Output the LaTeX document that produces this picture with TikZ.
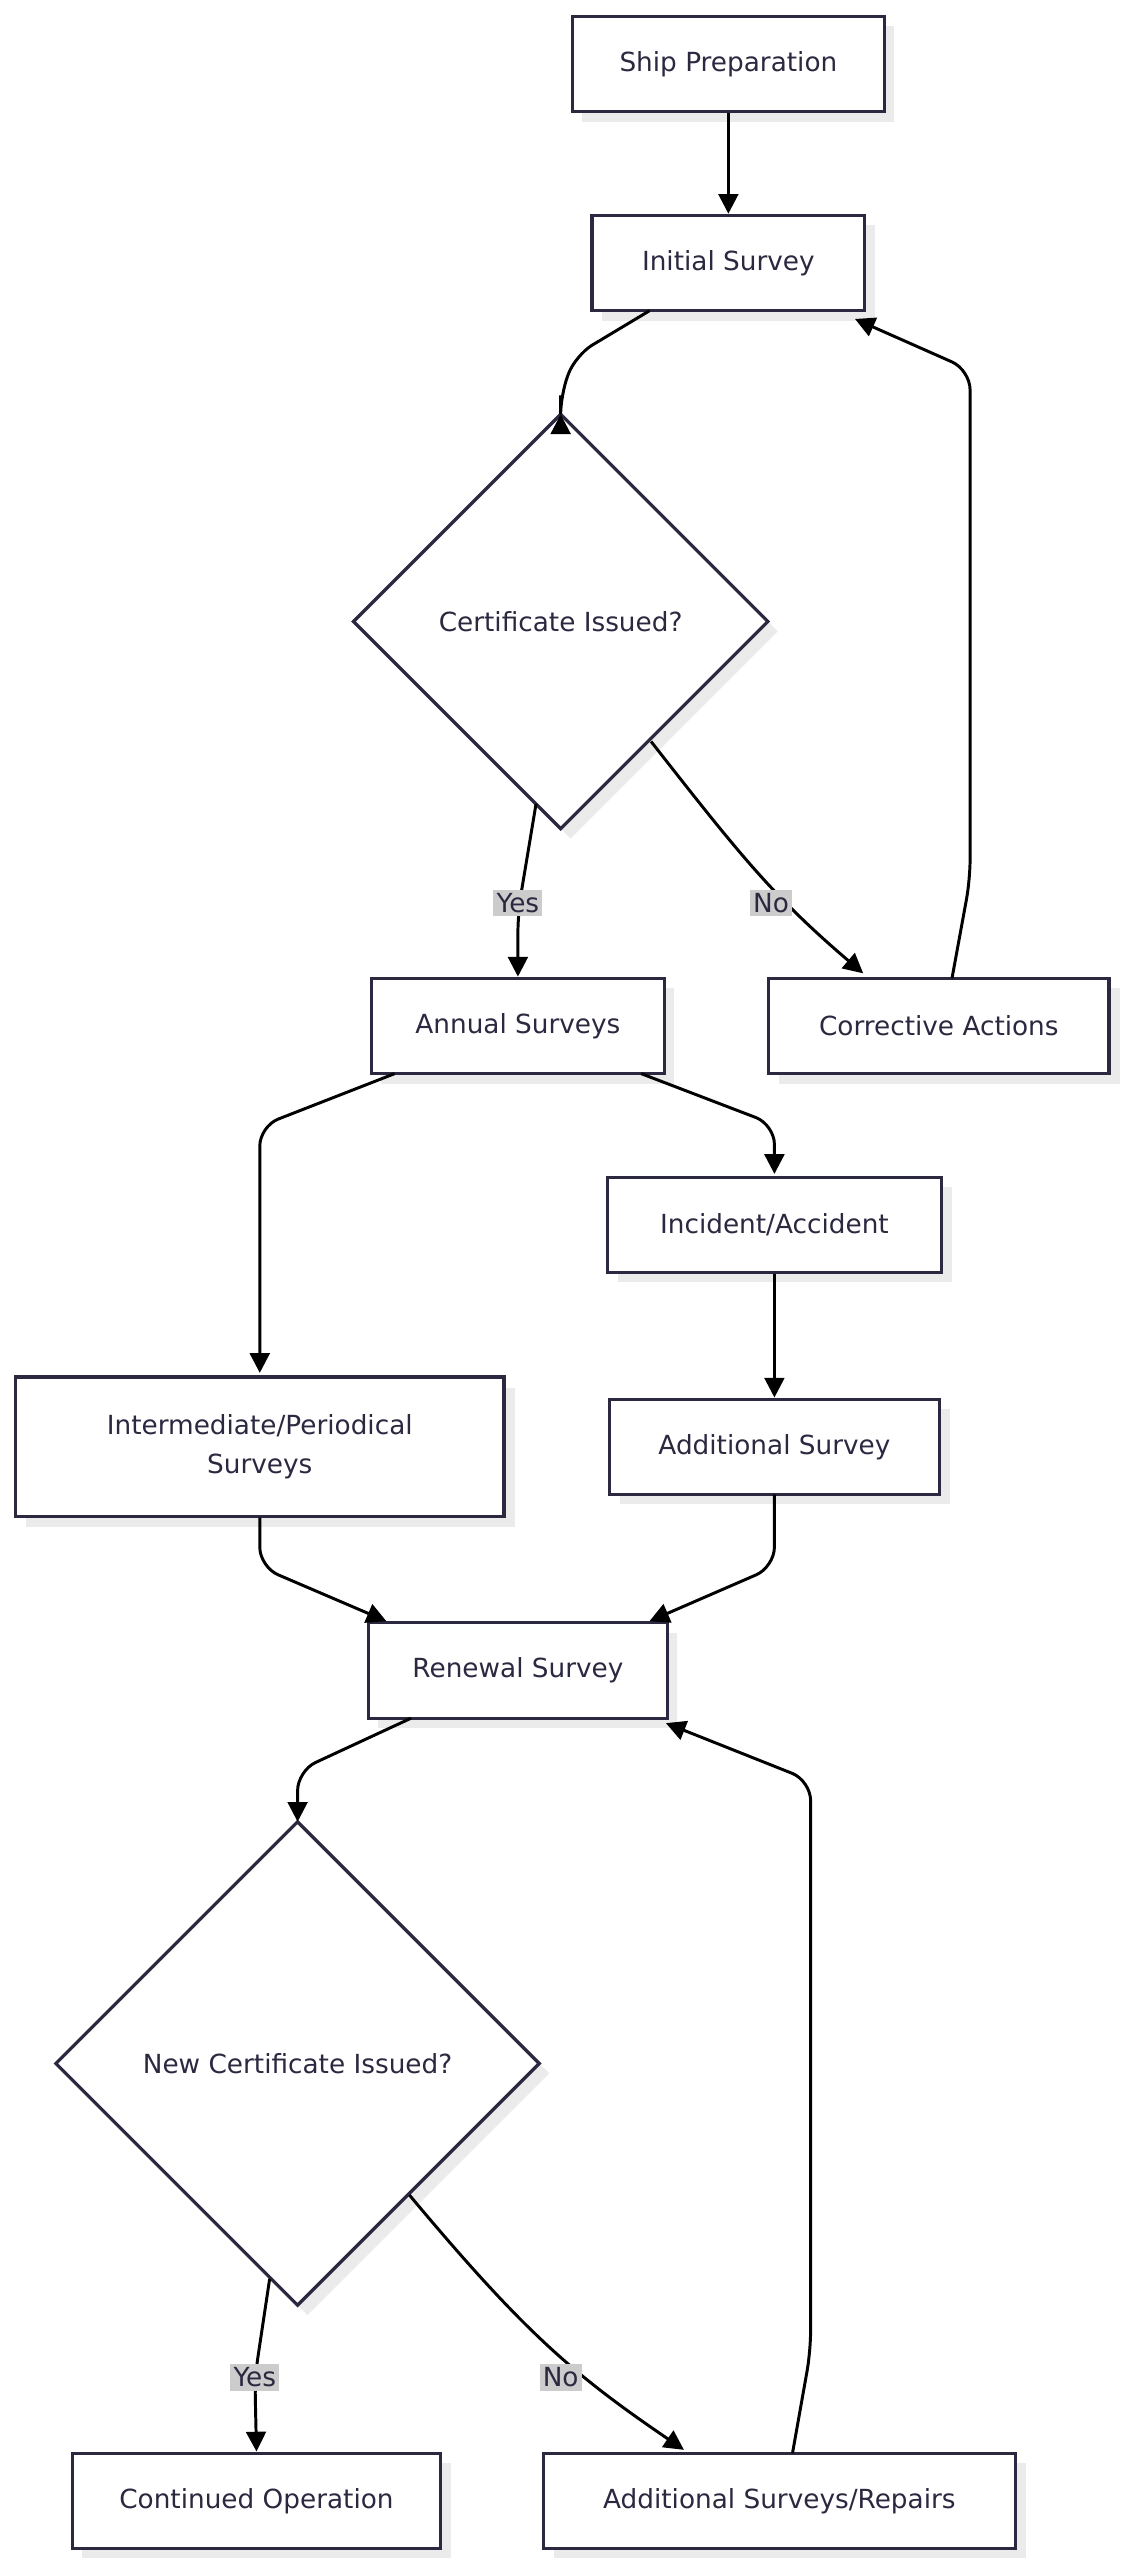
\documentclass[tikz,border=0pt]{standalone}
\usepackage{fontspec}
\setmainfont{DejaVu Sans}
\usetikzlibrary{shapes.geometric,arrows.meta}
\definecolor{ink}{HTML}{2B2840}
\begin{document}
\begin{tikzpicture}[x=1pt,y=-1pt,
  font=\fontsize{16}{24}\selectfont,
  box/.style={draw=ink,line width=2pt,fill=white,text=ink,minimum height=58pt,align=center,inner sep=0pt},
  dia/.style={draw=ink,line width=2pt,fill=white},
  e/.style={line width=1.8pt,-{Triangle[length=12pt,width=12pt]},rounded corners=12pt},
  lab/.style={fill=black!20,text=ink,inner sep=2pt}]
\useasboundingbox (0,0) rectangle (683,1557);
% shadows
\foreach \a/\b/\c/\d in {348/10/538/68,360/131/526/189,226/595/404/653,468/595/675/653,370/716/573/774,10/838/307/923,371/851/572/909,224/987/406/1045,44/1492/268/1550,331/1492/618/1550}
  \fill[black!8] (\a+6,\b+6) rectangle (\c+6,\d+6);
\fill[black!8] (347,258) -- (473,384) -- (347,510) -- (221,384) -- cycle;
\fill[black!8] (187,1114) -- (334,1261) -- (187,1408) -- (40,1261) -- cycle;
% diamonds
\coordinate (certT) at (341,252);
\draw[dia] (341,252) -- (467,378) -- (341,504) -- (215,378) -- cycle;
\node[text=ink] (cert) at (341,378) {Certificate Issued?};
\coordinate (newT) at (181,1108);
\draw[dia] (181,1108) -- (328,1255) -- (181,1402) -- (34,1255) -- cycle;
\node[text=ink] (newc) at (181,1255) {New Certificate Issued?};
% nodes
\node[box,minimum width=190pt] (ship) at (443,39) {Ship Preparation};
\node[box,minimum width=166pt] (init) at (443,160) {Initial Survey};
\node[box,minimum width=178pt] (annual) at (315,624) {Annual Surveys};
\node[box,minimum width=207pt] (corr) at (571,624) {Corrective Actions};
\node[box,minimum width=203pt] (inc) at (471,745) {Incident/Accident};
\node[box,minimum width=297pt,minimum height=85pt] (inter) at (158,880) {Intermediate/Periodical\\Surveys};
\node[box,minimum width=201pt] (add) at (471,880) {Additional Survey};
\node[box,minimum width=182pt] (ren) at (315,1016) {Renewal Survey};
\node[box,minimum width=224pt] (cont) at (156,1521) {Continued Operation};
\node[box,minimum width=287pt] (rep) at (474,1521) {Additional Surveys/Repairs};
% edges
\draw[e] (ship) -- (init);
\draw[e] (395,189) -- (350,216) -- (341,240) -- (certT);
\draw[e] (326,489) -- (315,555) -- (annual.north);
\node[lab] at (315,549) {Yes};
\draw[e] (396,451) .. controls (450,520) and (470,545) .. (525,592);
\node[lab] at (469,549) {No};
\draw[e] (579,595) -- (590,535) -- (590,225) -- (520,194);
\draw[e] (240,653) -- (158,685) -- (158,835);
\draw[e] (390,653) -- (471,684) -- (471,714);
\draw[e] (inc) -- (add);
\draw[e] (158,923) -- (158,953) -- (235,986);
\draw[e] (471,909) -- (471,953) -- (395,986);
\draw[e] (250,1045) -- (181,1077) -- (newT);
\draw[e] (164,1386) -- (155,1446) -- (cont.north);
\node[lab] at (155,1446) {Yes};
\draw[e] (249,1335) .. controls (320,1420) and (350,1445) .. (416,1490);
\node[lab] at (341,1446) {No};
\draw[e] (482,1492) -- (493,1430) -- (493,1083) -- (405,1048);
\end{tikzpicture}
\end{document}
